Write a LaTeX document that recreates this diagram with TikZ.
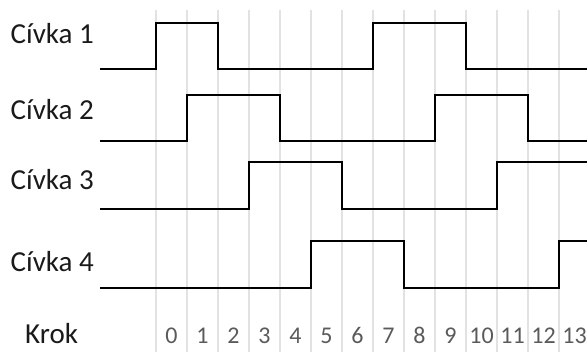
\documentclass[tikz,border=0pt]{standalone}
\usepackage{fontspec}
\setmainfont{Carlito}
\definecolor{gridgray}{HTML}{E2E2E2}
\definecolor{numgray}{HTML}{5A5A5A}
\definecolor{labelblack}{HTML}{1A1A1A}
\begin{document}
\begin{tikzpicture}[x=1pt,y=-1pt,
  gridline/.style={draw=gridgray,line width=1.6pt},
  signal/.style={draw=black,line width=2.4pt,line join=miter},
  coillabel/.style={anchor=base west,inner sep=0pt,text=labelblack,font=\fontsize{29}{32}\selectfont},
  steplabel/.style={anchor=base,inner sep=0pt,text=numgray,font=\fontsize{24}{26}\selectfont}]
\useasboundingbox (0,0) rectangle (587,352);
% grid
\foreach \k in {0,...,13} {
  \draw[gridline] ({156+31*\k},10) -- ({156+31*\k},352);
}
% step numbers
\foreach \k in {0,...,13} {
  \node[steplabel] (n\k) at ({171.5+31*\k},343.3) {\k};
}
% labels
\node[coillabel] (c1) at (10.5,44) {Cívka 1};
\node[coillabel] (c2) at (10.5,120) {Cívka 2};
\node[coillabel] (c3) at (10.5,190) {Cívka 3};
\node[coillabel] (c4) at (10.5,272) {Cívka 4};
\node[coillabel] (krok) at (25,344) {Krok};
% signals
\draw[signal] (100,69) -- (156,69) -- (156,23) -- (218,23) -- (218,69) -- (373,69) -- (373,23) -- (466,23) -- (466,69) -- (590,69);
\draw[signal] (100,141) -- (187,141) -- (187,95) -- (280,95) -- (280,141) -- (435,141) -- (435,95) -- (528,95) -- (528,141) -- (590,141);
\draw[signal] (100,209) -- (249,209) -- (249,162) -- (342,162) -- (342,209) -- (497,209) -- (497,162) -- (590,162);
\draw[signal] (100,288) -- (311,288) -- (311,241) -- (404,241) -- (404,288) -- (559,288) -- (559,241) -- (590,241);
\end{tikzpicture}
\end{document}
